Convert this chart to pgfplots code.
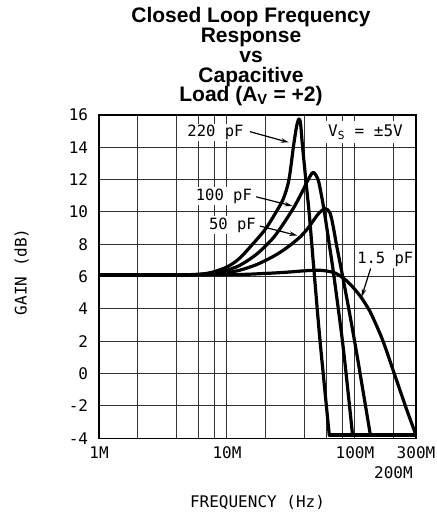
\documentclass[border=0pt]{standalone}
\usepackage{fontspec}
\setmainfont{Liberation Sans}
\newfontfamily\plotfont{DejaVu Sans Mono}
\usepackage{pgfplots}
\pgfplotsset{compat=1.18}
\usetikzlibrary{arrows.meta}

\begin{document}
\begin{tikzpicture}[x=1bp,y=1bp]
\useasboundingbox (0,0) rectangle (437,516);
% title
\begin{scope}[every node/.style={anchor=base, inner sep=0pt, font=\bfseries\fontsize{21bp}{21bp}\selectfont}]
\node at (251,493.3) {Closed Loop Frequency};
\node at (251,473.0) {Response};
\node at (251,453.0) {vs};
\node at (251,433.3) {Capacitive};
\node at (251,414.3) {Load (A\textsubscript{V} = +2)};
\end{scope}
\begin{axis}[
  at={(99bp,77.7bp)}, anchor=south west,
  scale only axis, width=317bp, height=323.3bp,
  xmode=log, xmin=1, xmax=300, ymin=-4, ymax=16,
  xtick={1,10,100,300}, xticklabels={1M,10M,100M,300M},
  minor xtick={2,4,6,8,20,40,60,80},
  extra x ticks={200}, extra x tick labels={200M},
  extra x tick style={grid=major, xticklabel style={yshift=-20bp}},
  ytick={-4,-2,0,2,4,6,8,10,12,14,16},
  grid=both,
  major grid style={line width=1bp, draw=black!80},
  minor grid style={line width=1bp, draw=black!80},
  axis line style={line width=1.3bp},
  major tick length=0pt, minor tick length=0pt,
  tick label style={font=\plotfont\fontsize{16bp}{16bp}\selectfont, /pgf/number format/assume math mode=true},
  yticklabel style={inner sep=0pt, anchor=east, xshift=-10.7bp},
  xticklabel style={inner sep=0pt, anchor=north, yshift=-8.4bp},
  xlabel={FREQUENCY (Hz)},
  xlabel style={at={(axis description cs:0.5,0)}, anchor=north, yshift=-56.7bp, inner sep=0pt, font=\plotfont\fontsize{16bp}{16bp}\selectfont},
  ylabel={GAIN (dB)},
  ylabel style={at={(axis description cs:-0.2438,0.515)}, anchor=center, inner sep=0pt, font=\plotfont\fontsize{16bp}{16bp}\selectfont},
  every axis plot/.style={draw=black, line width=3.2bp, line join=round, line cap=round},
  clip=true,
]
% labels with white background (drawn before curves)
\begin{scope}[every node/.style={fill=white, inner sep=1.5bp, font=\plotfont\fontsize{15.5bp}{15.5bp}\selectfont}]
\node at (axis cs:8.13,14.92) {220 pF};
\node at (axis cs:9.46,10.98) {100 pF};
\node at (axis cs:11.04,9.19) {50 pF};
\node at (axis cs:172.6,7.08) {1.5 pF};
\node[anchor=base, inner xsep=5bp, inner ysep=3.5bp, font=\plotfont\fontsize{16bp}{16bp}\selectfont] at (axis cs:120.8,14.66) {V\textsubscript{S} = ±5V};
\end{scope}
\begin{scope}[line width=1.2bp, -{Stealth[length=8bp,width=4.5bp]}]
\draw (axis cs:15.1,14.97) -- (axis cs:30.5,14.3);
\draw (axis cs:16.9,10.94) -- (axis cs:32.5,10.37);
\draw (axis cs:18.1,9.13) -- (axis cs:35.5,8.54);
\draw (axis cs:132.6,6.51) -- (axis cs:112.8,4.75);
\end{scope}
% 220 pF
\addplot[smooth] coordinates {
(1,6.1) (4,6.11) (6,6.15) (7.5,6.25) (10,6.6) (12.6,7.15) (17.1,8.3) (20,8.95) (23,9.7) (27.5,10.8) (30.5,12.0) (33,14.0) (35,15.3) (36.5,15.75) (37.6,15.45) (38.9,14.1) (41.3,12.0) (43.8,10.0) (46,8.0) (48.3,6.0) (53.3,2.07) (63,-3.8)
};
% 100 pF
\addplot[smooth] coordinates {
(1,6.1) (4,6.1) (6,6.13) (8,6.22) (9.6,6.35) (12.6,6.7) (17.1,7.4) (23,8.4) (28.3,9.4) (34,10.4) (39,11.3) (43.1,12.0) (47.2,12.45) (51.5,12.0) (54.5,11.1) (57.7,10.0) (63,8.0) (68.6,6.0) (81,1.6) (95.8,-3.8)
};
% 50 pF
\addplot[smooth] coordinates {
(1,6.1) (5,6.1) (8,6.16) (9.6,6.22) (12.6,6.4) (17.1,6.75) (23,7.25) (28.3,7.7) (33,8.1) (37.2,8.45) (42,8.9) (47.2,9.45) (52,9.9) (58.3,10.2) (63.8,9.95) (68,9.0) (72,7.9) (78,6.5) (90,3.9) (104,1.1) (132,-3.8)
};
% 1.5 pF
\addplot[smooth] coordinates {
(1,6.1) (10,6.12) (20,6.2) (30,6.28) (40,6.36) (52,6.4) (62,6.33) (70,6.22) (80,5.95) (90,5.6) (100,5.2) (110,4.8) (120,4.35) (131,3.85) (145,3.1) (166,2.0) (199,0.2) (253,-2.2) (300,-3.8)
};
% common floor
\addplot[sharp plot] coordinates {(63,-3.8) (300,-3.8)};
\end{axis}
\end{tikzpicture}
\end{document}
